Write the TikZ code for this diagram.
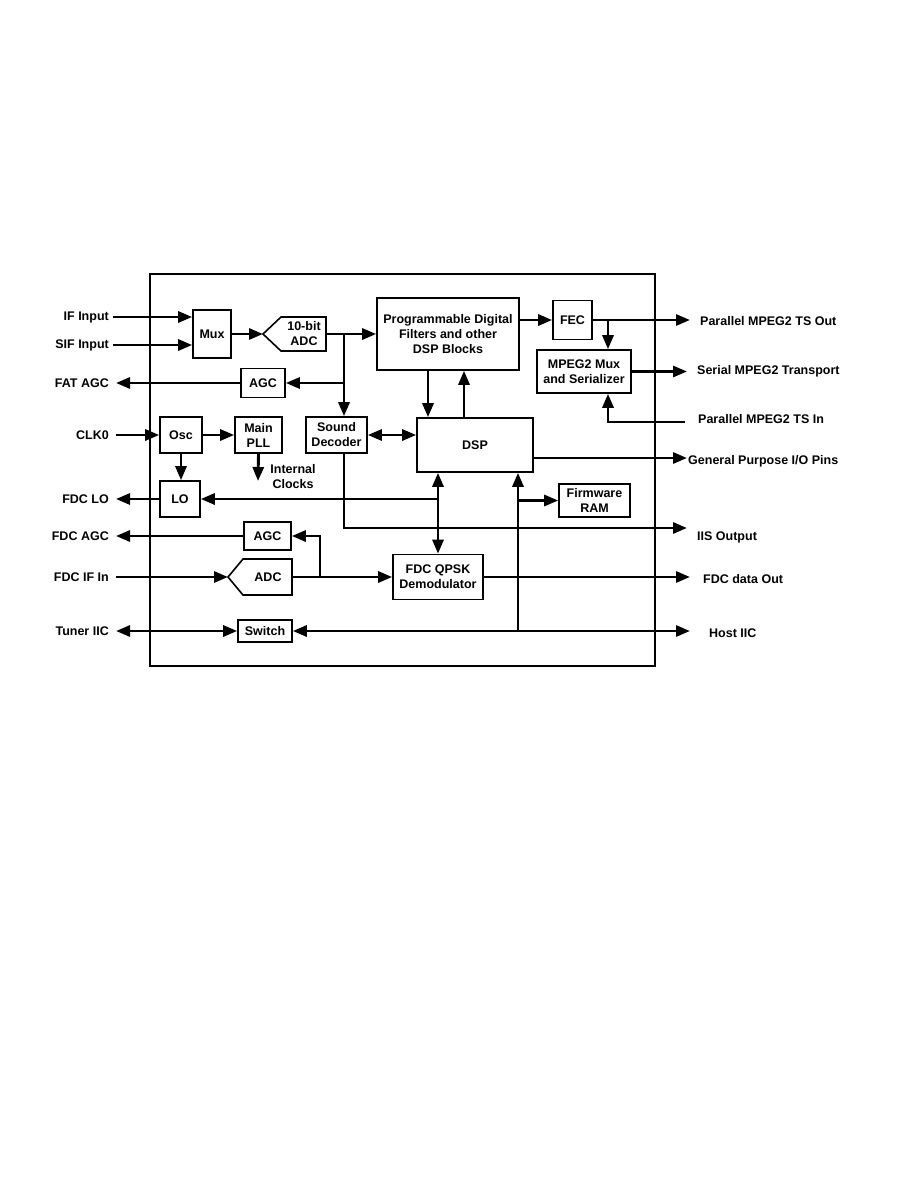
\documentclass[tikz,border=0pt]{standalone}
\usepackage{fontspec}
\setmainfont{Liberation Sans}
\usetikzlibrary{arrows.meta}
\begin{document}
\begin{tikzpicture}[x=1pt,y=-1pt,
  blk/.style={draw,line width=1.6pt,fill=white,font=\bfseries\fontsize{12.5}{15}\selectfont,align=center,inner sep=0pt},
  txt/.style={font=\bfseries\fontsize{12.5}{15}\selectfont,inner sep=0pt,align=center},
  lbl/.style={font=\bfseries\fontsize{12.5}{15}\selectfont,inner sep=0pt},
  conn/.style={line width=2.9pt},
  arr/.style={conn,-{Triangle[length=14pt,width=11pt]}},
  darr/.style={conn,{Triangle[length=14pt,width=11pt]}-{Triangle[length=14pt,width=11pt]}}]
\useasboundingbox (0,0) rectangle (918,1188);
% outer chip box
\draw[line width=1.4pt] (150,274) rectangle (655,666);

% blocks
\node[blk,minimum width=38pt,minimum height=48pt] (mux) at (212,334) {Mux};
\draw[line width=1.6pt,fill=white] (263,334) -- (281,317) -- (326,317) -- (326,351) -- (281,351) -- cycle;
\node[txt] (adc10) at (304,334) {10-bit\\ADC};
\coordinate (adc10tip) at (263,334);
\coordinate (adc10out) at (326,334);
\node[blk,minimum width=142pt,minimum height=72pt] (prog) at (448,334) {Programmable Digital\\Filters and other\\DSP Blocks};
\node[blk,minimum width=39pt,minimum height=39pt] (fec) at (572.5,320) {FEC};
\node[blk,minimum width=94pt,minimum height=43pt] (mpegmux) at (584,371.5) {MPEG2 Mux\\and Serializer};
\node[blk,minimum width=44pt,minimum height=29pt] (fatagc) at (263,383) {AGC};
\node[blk,minimum width=42pt,minimum height=36pt] (osc) at (181,435) {Osc};
\node[blk,minimum width=47pt,minimum height=36pt] (pll) at (258.5,435) {Main\\PLL};
\node[blk,minimum width=61pt,minimum height=36pt] (sound) at (336.5,435) {Sound\\Decoder};
\node[blk,minimum width=116pt,minimum height=54pt] (dsp) at (475,445) {DSP};
\node[blk,minimum width=40pt,minimum height=36pt] (lo) at (180,499) {LO};
\node[blk,minimum width=71pt,minimum height=33pt] (fwram) at (594.5,500.5) {Firmware\\RAM};
\node[blk,minimum width=47pt,minimum height=28pt] (fdcagc) at (267.5,536) {AGC};
\draw[line width=1.6pt,fill=white] (228,577) -- (243,559) -- (292,559) -- (292,595) -- (243,595) -- cycle;
\node[txt] (fdcadc) at (268,577) {ADC};
\coordinate (fdcadctip) at (228,577);
\coordinate (fdcadcout) at (292,577);
\node[blk,minimum width=90pt,minimum height=45pt] (qpsk) at (438,577) {FDC QPSK\\Demodulator};
\node[blk,minimum width=54pt,minimum height=22pt] (switch) at (265,631) {Switch};

% left labels
\node[lbl,anchor=east] (ifin) at (109,317) {IF Input};
\node[lbl,anchor=east] (sifin) at (109,345) {SIF Input};
\node[lbl,anchor=east] (fatagclbl) at (109,383) {FAT AGC};
\node[lbl,anchor=east] (clk) at (109,435) {CLK0};
\node[lbl,anchor=east] (fdclo) at (109,499) {FDC LO};
\node[lbl,anchor=east] (fdcagclbl) at (109,536) {FDC AGC};
\node[lbl,anchor=east] (fdcifin) at (109,577) {FDC IF In};
\node[lbl,anchor=east] (tuner) at (109,631) {Tuner IIC};

% right labels
\node[lbl,anchor=west] (ptsout) at (700,321) {Parallel MPEG2 TS Out};
\node[lbl,anchor=west] (serial) at (697,371) {Serial MPEG2 Transport};
\node[lbl,anchor=west] (ptsin) at (698,419) {Parallel MPEG2 TS In};
\node[lbl,anchor=west] (gpio) at (688,461) {General Purpose I/O Pins};
\node[lbl,anchor=west] (iis) at (697,537) {IIS Output};
\node[lbl,anchor=west] (fdcout) at (703,579) {FDC data Out};
\node[lbl,anchor=west] (host) at (709,633) {Host IIC};
\node[txt] (intclk) at (293,477) {Internal\\Clocks};

% coordinates
\coordinate (j1) at (344,334);
\coordinate (j2) at (438,499);
\coordinate (j3) at (608,320);
\coordinate (j4) at (518,631);
\coordinate (j5) at (320,577);
\coordinate (ptsoutend) at (690,320);
\coordinate (serialend) at (687,371.5);
\coordinate (ptsinstart) at (685,422);
\coordinate (gpioend) at (687,458);
\coordinate (iisend) at (687,528);
\coordinate (fdcoutend) at (690,577);
\coordinate (hostend) at (690,631);
\coordinate (clkend) at (258,481);

% connectors
\draw[arr] ([xshift=4pt]ifin.east) -- (mux.west |- ifin);
\draw[arr] ([xshift=4pt]sifin.east) -- (mux.west |- sifin);
\draw[arr] (mux.east) -- (adc10tip);
\draw[arr] (adc10out) -- (prog.west);
\draw[arr] (j1) -- (j1 |- sound.north);
\draw[arr] (j1 |- fatagc) -- (fatagc.east);
\draw[arr] (fatagc.west) -- ([xshift=7pt]fatagclbl.east |- fatagc.west);
\draw[arr] ([xshift=7pt]clk.east) -- (osc.west);
\draw[arr] (osc.east) -- (pll.west);
\draw[arr] (osc.south) -- (osc.south |- lo.north);
\draw[arr] (pll.south) -- (clkend);
\draw[arr] (lo.west) -- ([xshift=7pt]fdclo.east |- lo.west);
\draw[arr] (j2) -- (lo.east);
\draw[conn,-{Triangle[length=14pt,width=11pt]}] (j1 |- sound.south) |- (iisend);
\draw[darr] (sound.east) -- (dsp.west |- sound.east);
\draw[arr] ([xshift=-20pt]prog.south) -- ([xshift=-20pt]prog.south |- dsp.north);
\draw[arr] ([xshift=16pt]prog.south |- dsp.north) -- ([xshift=16pt]prog.south);
\draw[arr] (prog.east |- fec.west) -- (fec.west);
\draw[arr] (fec.east) -- (ptsoutend |- fec.east);
\draw[arr] (j3) -- (j3 |- mpegmux.north);
\draw[arr] (mpegmux.east) -- (serialend |- mpegmux.east);
\draw[arr] (ptsinstart) -| (j3 |- mpegmux.south);
\draw[arr] (dsp.east |- gpioend) -- (gpioend);
\draw[arr] (j4) -- (j4 |- dsp.south);
\draw[arr] (j4 |- fwram.west) -- (fwram.west);
\draw[darr] (dsp.south -| qpsk.north) -- (qpsk.north);
\draw[arr] (qpsk.east) -- (fdcoutend |- qpsk.east);
\draw[arr] (fdcagc.west) -- ([xshift=7pt]fdcagclbl.east |- fdcagc.west);
\draw[arr] ([xshift=7pt]fdcifin.east) -- (fdcadctip);
\draw[arr] (fdcadcout) -- (qpsk.west);
\draw[arr] (j5) |- (fdcagc.east);
\draw[darr] ([xshift=7pt]tuner.east) -- (switch.west);
\draw[darr] (switch.east) -- (hostend |- switch.east);
\end{tikzpicture}
\end{document}
